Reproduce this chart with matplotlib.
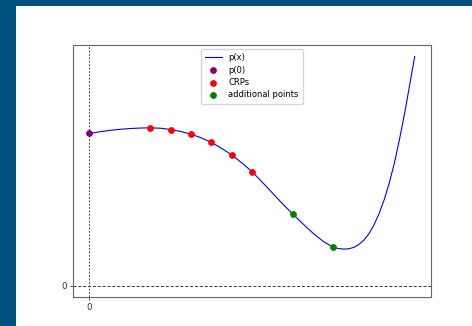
import matplotlib
matplotlib.use("Agg")
import matplotlib.pyplot as plt
from matplotlib.patches import Rectangle

# Curve p(x)
curve_x = [0, 0.5, 1, 1.5, 2, 2.5, 3, 3.5, 4, 4.5, 5, 5.5, 6, 6.5, 7, 7.5, 8,
           8.5, 9, 9.5, 10, 10.5, 11, 11.5, 12, 12.25, 12.5, 12.75, 13,
           13.25, 13.5, 13.75, 14, 14.25, 14.5, 14.75, 15, 15.25, 15.5,
           15.75, 16]
curve_y = [15.40, 15.57, 15.71, 15.82, 15.90, 15.95, 15.97, 15.93, 15.80,
           15.60, 15.33, 14.96, 14.50, 13.90, 13.23, 12.43, 11.53, 10.48,
           9.38, 8.28, 7.25, 6.25, 5.30, 4.47, 3.87, 3.75, 3.69, 3.72, 3.86,
           4.15, 4.60, 5.25, 6.15, 7.30, 8.70, 10.40, 12.40, 14.80, 17.40,
           20.30, 23.20]

p0_x = [0]
p0_y = [15.40]
crp_x = [3, 4, 5, 6, 7, 8]
crp_y = [15.97, 15.80, 15.33, 14.50, 13.23, 11.53]
add_x = [10, 12]
add_y = [7.25, 3.87]

xticks = [0]
yticks = [0]

fig = plt.figure(figsize=(4.72, 3.26), dpi=100)
fig.patch.set_facecolor("#00527e")
fig.patches.append(Rectangle((16 / 472, 0), 1 - 16 / 472, 320 / 326,
                             transform=fig.transFigure, facecolor="white",
                             edgecolor="none", zorder=-10))

ax = fig.add_axes([73 / 472, 29 / 326, 358 / 472, 252 / 326])
ax.set_zorder(1)
ax.plot(curve_x, curve_y, color="blue", lw=0.8, label="p(x)")
ax.scatter(p0_x, p0_y, color="purple", s=15, zorder=3, label="p(0)")
ax.scatter(crp_x, crp_y, color="red", s=15, zorder=3, label="CRPs")
ax.scatter(add_x, add_y, color="green", s=15, zorder=3, label="additional points")
ax.axhline(0, color="0.2", linestyle=(0, (3, 2)), lw=0.7)
ax.axvline(0, color="0.3", linestyle=(0, (2, 1.5)), lw=0.7)

ax.set_xticks(xticks)
ax.set_yticks(yticks)
ax.tick_params(labelsize=6.3, length=2.5, width=0.6, pad=2, colors="0.2")
for sp in ax.spines.values():
    sp.set_color("0.4")
    sp.set_linewidth(0.8)

ax.legend(loc="upper center", fontsize=6, scatterpoints=1,
          handlelength=2.0, borderpad=0.5, labelspacing=0.4,
          framealpha=0.8)

fig.savefig("out.png", dpi=100, facecolor=fig.get_facecolor())
